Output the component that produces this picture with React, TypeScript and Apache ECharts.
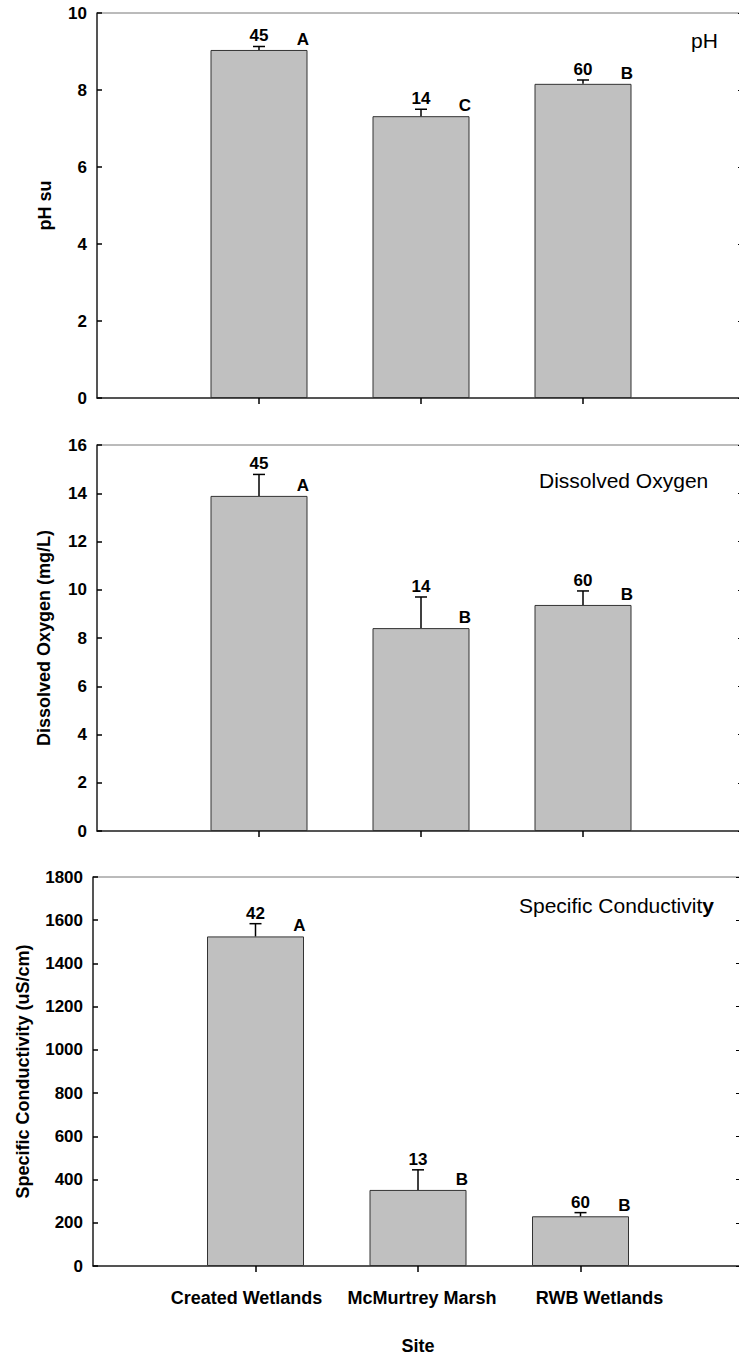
import React, { useEffect, useRef } from "react";
import * as echarts from "echarts";

const categories = ["", "Created Wetlands", "McMurtrey Marsh", "RWB Wetlands", ""];

const phMean = [9.04, 7.32, 8.16];
const phErr = [0.09, 0.18, 0.1];
const phN = ["45", "14", "60"];
const phLetters = ["A", "C", "B"];

const doMean = [13.89, 8.41, 9.37];
const doErr = [0.89, 1.29, 0.58];
const doN = ["45", "14", "60"];
const doLetters = ["A", "B", "B"];

const scMean = [1525, 352, 230];
const scErr = [59, 93, 17];
const scN = ["42", "13", "60"];
const scLetters = ["A", "B", "B"];

const FONT = "'Liberation Sans', Arial, Helvetica, sans-serif";

function makeRender(nLabels: string[], letters: string[]) {
  return (params: any, api: any) => {
    const x = api.value(0);
    const m = api.value(1);
    const e = api.value(2);
    const base = api.coord([x, m]);
    const top = api.coord([x, m + e]);
    const i = params.dataIndex;
    return {
      type: "group",
      children: [
        { type: "line", shape: { x1: base[0], y1: base[1], x2: top[0], y2: top[1] }, style: { stroke: "#000", lineWidth: 1.5 } },
        { type: "line", shape: { x1: top[0] - 6, y1: top[1], x2: top[0] + 6, y2: top[1] }, style: { stroke: "#000", lineWidth: 1.5 } },
        {
          type: "text",
          x: top[0],
          y: top[1] - 2,
          style: { text: nLabels[i], fill: "#000", fontSize: 17, fontWeight: "bold", fontFamily: FONT, align: "center", verticalAlign: "bottom" },
        },
        {
          type: "text",
          x: base[0] + 44,
          y: base[1] - 2,
          style: { text: letters[i], fill: "#000", fontSize: 17, fontWeight: "bold", fontFamily: FONT, align: "center", verticalAlign: "bottom" },
        },
      ],
    };
  };
}

export default function App() {
  const ref = useRef<HTMLDivElement>(null);
  useEffect(() => {
    if (!ref.current) return;
    const chart = echarts.init(ref.current, null, { renderer: "svg" });
    const grids = [
      { left: 97, top: 13, right: 1, height: 385 },
      { left: 97, top: 445, right: 1, height: 386 },
      { left: 93, top: 877, right: 1, height: 389 },
    ].map((g) => ({ ...g, show: true, borderColor: "#777", borderWidth: 1, backgroundColor: "transparent" }));

    const tickShow = (idx: number) => idx >= 1 && idx <= 3;
    const xAxes = [0, 1, 2].map((gi) => ({
      type: "category",
      gridIndex: gi,
      data: categories,
      boundaryGap: false,
      axisLine: { lineStyle: { color: "#333", width: 1.5 } },
      axisTick: { show: true, interval: (idx: number) => tickShow(idx), length: 6, lineStyle: { color: "#000", width: 1.5 } },
      axisLabel:
        gi === 2
          ? {
              show: true,
              interval: 0,
              margin: 23,
              formatter: (v: string) => {
                const k = categories.indexOf(v);
                if (k < 1 || k > 3) return "";
                return "{l" + k + "|" + v + "}";
              },
              rich: {
                l1: { fontSize: 18, fontWeight: "bold", fontFamily: FONT, color: "#000", padding: [0, 18, 0, 0] },
                l2: { fontSize: 18, fontWeight: "bold", fontFamily: FONT, color: "#000", padding: [0, 0, 0, 8] },
                l3: { fontSize: 18, fontWeight: "bold", fontFamily: FONT, color: "#000", padding: [0, 0, 0, 38] },
              },
            }
          : { show: false },
      splitLine: { show: false },
      name: gi === 2 ? "Site" : "",
      nameLocation: "middle",
      nameGap: 71,
      nameTextStyle: { fontSize: 18, fontWeight: "bold", fontFamily: FONT, color: "#000" },
    }));

    const yDefs = [
      { max: 10, interval: 2, name: "pH su", gap: 43 },
      { max: 16, interval: 2, name: "Dissolved Oxygen (mg/L)", gap: 44 },
      { max: 1800, interval: 200, name: "Specific Conductivity (uS/cm)", gap: 61 },
    ];
    const yAxesLeft = yDefs.map((d, gi) => ({
      type: "value",
      gridIndex: gi,
      position: "left",
      min: 0,
      max: d.max,
      interval: d.interval,
      axisLine: { show: true, lineStyle: { color: "#333", width: 1.5 } },
      axisTick: { show: true, inside: true, length: 5, lineStyle: { color: "#000", width: 1.5 } },
      axisLabel: { show: true, margin: 10, fontSize: 17, fontWeight: "bold", fontFamily: FONT, color: "#000", formatter: (v: number) => String(v) },
      splitLine: { show: false },
      name: d.name,
      nameLocation: "middle",
      nameRotate: 90,
      nameGap: d.gap,
      nameTextStyle: { fontSize: 18, fontWeight: "bold", fontFamily: FONT, color: "#000" },
    }));
    const yAxesRight = yDefs.map((d, gi) => ({
      type: "value",
      gridIndex: gi,
      position: "right",
      min: 0,
      max: d.max,
      interval: d.interval,
      axisLine: { show: true, lineStyle: { color: "#333", width: 1 } },
      axisTick: { show: true, inside: true, length: 7, lineStyle: { color: "#000", width: 1 } },
      axisLabel: { show: false },
      splitLine: { show: false },
    }));

    const panels = [
      { mean: phMean, err: phErr, n: phN, letters: phLetters },
      { mean: doMean, err: doErr, n: doN, letters: doLetters },
      { mean: scMean, err: scErr, n: scN, letters: scLetters },
    ];
    const series: any[] = [];
    panels.forEach((p, gi) => {
      series.push({
        type: "bar",
        xAxisIndex: gi,
        yAxisIndex: gi,
        barWidth: 97,
        data: p.mean.map((v, i) => [i + 1, v]),
        itemStyle: { color: "#c0c0c0", borderColor: "#333", borderWidth: 1 },
        silent: true,
      });
      series.push({
        type: "custom",
        xAxisIndex: gi,
        yAxisIndex: gi,
        data: p.mean.map((v, i) => [i + 1, v, p.err[i]]),
        encode: { x: 0, y: 1 },
        renderItem: makeRender(p.n, p.letters),
        silent: true,
        z: 5,
      });
    });

    const titleStyle = { fontSize: 21, fontWeight: "normal", fontFamily: FONT, color: "#000" };
    chart.setOption({
      animation: false,
      backgroundColor: "#fff",
      title: [
        { text: "pH", left: 691, top: 30, padding: 0, textStyle: titleStyle },
        { text: "Dissolved Oxygen", left: 539, top: 470, padding: 0, textStyle: titleStyle },
        {
          text: "{a|Specific Conductivit}{b|y}",
          left: 519,
          top: 895,
          padding: 0,
          textStyle: {
            ...titleStyle,
            rich: {
              a: { fontSize: 21, fontWeight: "normal", fontFamily: FONT, color: "#000" },
              b: { fontSize: 21, fontWeight: "bold", fontFamily: FONT, color: "#000" },
            },
          },
        },
      ],
      grid: grids,
      xAxis: xAxes,
      yAxis: [...yAxesLeft, ...yAxesRight],
      series,
    });
    return () => chart.dispose();
  }, []);
  return (
    <div style={{ position: "absolute", left: 0, top: 0, width: 739, height: 1356, overflow: "hidden", background: "#fff" }}>
      <div ref={ref} style={{ width: 746, height: 1356 }} />
    </div>
  );
}
